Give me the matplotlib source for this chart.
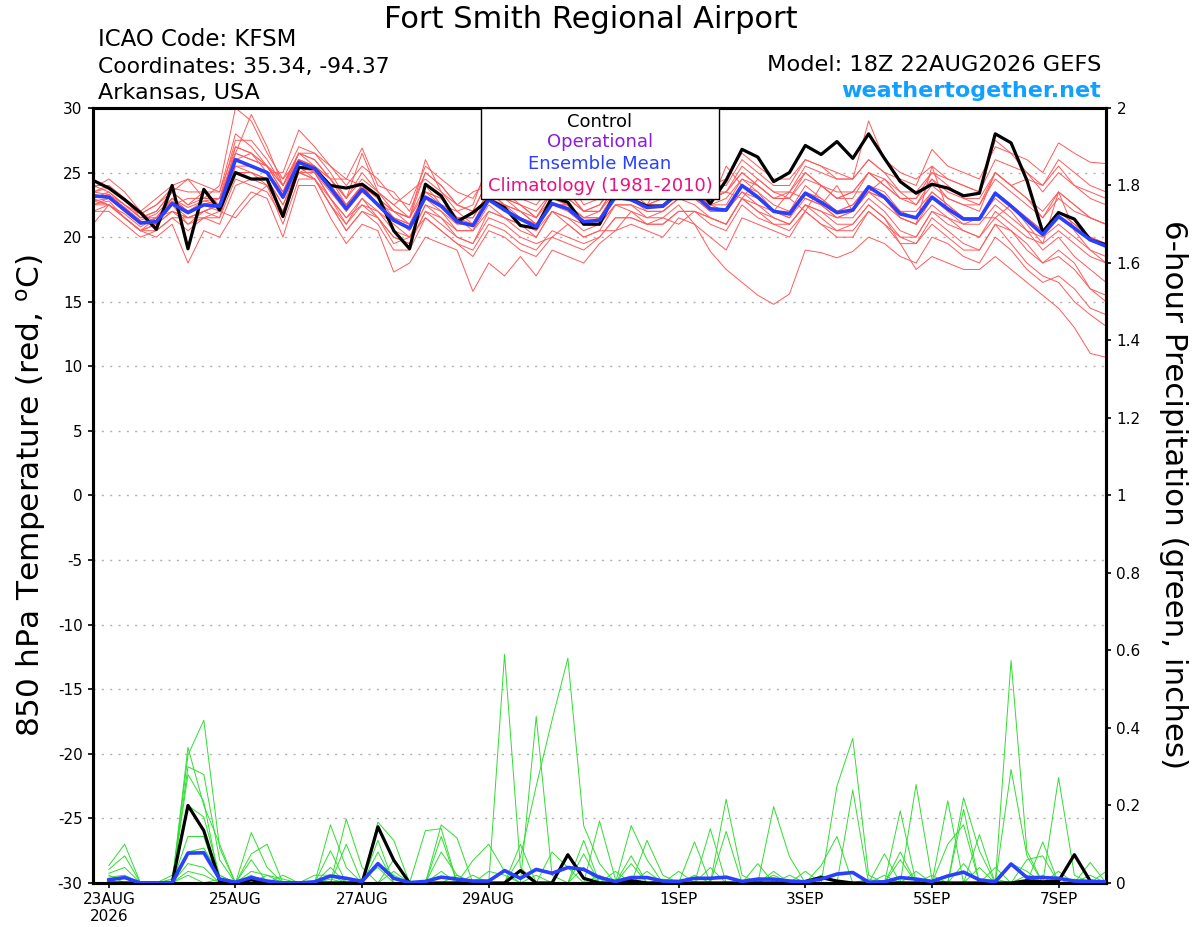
import matplotlib
matplotlib.use("Agg")
import matplotlib.pyplot as plt
import numpy as np
import pandas as pd
from matplotlib.patches import Rectangle

plt.rcParams['font.family'] = ['DejaVu Sans']
plt.rcParams['axes.unicode_minus'] = False

# 6-hourly valid times, GEFS run 18Z 22AUG2026
times = pd.date_range('2026-08-22 18:00', periods=65, freq='6h')

# 850 hPa temperature, control run (black)
temp_control = [
    24.4, 23.8, 22.9, 21.9, 20.6, 24.0, 19.1, 23.7, 22.1, 25.0, 24.5, 24.5, 21.6,
    25.4, 25.3, 24.0, 23.8, 24.1, 23.2, 20.5, 19.1, 24.1, 23.2, 21.2, 21.9, 22.9,
    22.3, 20.9, 20.7, 23.1, 22.7, 21.0, 21.0, 23.4, 22.9, 22.4, 22.4, 23.5, 24.2,
    22.6, 24.4, 26.8, 26.2, 24.3, 25.0, 27.1, 26.4, 27.4, 26.1, 28.0, 26.1, 24.3,
    23.4, 24.1, 23.8, 23.2, 23.4, 28.0, 27.3, 24.4, 20.4, 21.9, 21.4, 19.8, 19.4]

# ensemble mean (blue)
temp_mean = [
    23.2, 23.1, 22.1, 21.1, 21.2, 22.6, 21.9, 22.5, 22.4, 26.0, 25.5, 25.0, 23.1,
    25.8, 25.3, 23.8, 22.2, 23.7, 22.5, 21.3, 20.7, 23.1, 22.4, 21.2, 20.9, 22.9,
    22.1, 21.4, 20.8, 22.6, 22.2, 21.2, 21.3, 23.1, 22.9, 22.3, 22.4, 23.4, 23.3,
    22.2, 22.1, 24.0, 23.1, 22.0, 21.8, 23.4, 22.7, 21.9, 22.1, 23.9, 23.1, 21.8,
    21.5, 23.1, 22.2, 21.4, 21.4, 23.4, 22.4, 21.3, 20.2, 21.6, 20.7, 19.8, 19.3]

# individual members (red)
temp_members = [
    [23.5, 24.0, 23.0, 21.5, 22.0, 23.5, 22.5, 23.0, 24.0, 30.0, 29.0, 26.5, 24.5,
     27.0, 26.5, 25.0, 23.0, 26.5, 23.5, 22.0, 21.5, 26.0, 23.5, 22.0, 22.5, 25.8,
     23.0, 22.0, 21.5, 23.5, 23.0, 22.0, 22.5, 24.0, 24.0, 23.0, 23.5, 24.5, 24.0,
     23.0, 23.5, 25.0, 24.0, 23.0, 23.0, 25.0, 24.0, 23.5, 23.5, 25.0, 24.0, 23.0,
     22.5, 24.0, 23.0, 22.5, 22.0, 25.0, 24.0, 23.0, 21.5, 23.5, 22.5, 21.5, 21.0],
    [21.0, 22.5, 21.5, 20.5, 20.0, 21.0, 18.0, 20.5, 20.0, 22.0, 23.5, 23.0, 20.0,
     24.0, 24.0, 21.5, 19.5, 21.0, 20.5, 17.3, 18.0, 20.0, 19.5, 19.0, 15.8, 18.0,
     17.0, 18.5, 17.0, 19.0, 18.5, 18.0, 19.5, 20.5, 21.0, 20.5, 20.0, 21.5, 21.0,
     20.0, 19.0, 21.5, 21.0, 20.5, 20.0, 22.0, 21.0, 20.0, 20.0, 22.0, 21.0, 19.5,
     19.5, 21.0, 20.0, 19.0, 19.0, 21.0, 20.5, 19.5, 18.0, 19.0, 18.0, 16.0, 15.0],
    [22.5, 22.8, 21.5, 20.5, 21.0, 22.0, 21.5, 22.0, 22.5, 25.0, 25.0, 24.5, 22.5,
     25.0, 25.0, 23.0, 21.0, 23.0, 21.5, 20.0, 19.5, 22.0, 21.5, 20.0, 19.5, 22.0,
     21.5, 20.5, 20.0, 22.0, 21.0, 20.0, 20.5, 22.5, 22.0, 21.5, 21.5, 22.5, 21.0,
     18.9, 17.5, 16.5, 15.5, 14.8, 15.6, 19.0, 18.8, 18.4, 18.9, 20.0, 19.5, 18.5,
     18.0, 20.0, 19.5, 18.5, 18.0, 20.0, 19.0, 17.5, 16.5, 17.0, 16.0, 14.5, 14.0],
    [23.0, 23.5, 22.5, 21.5, 21.5, 23.0, 22.0, 22.5, 23.0, 26.5, 26.0, 25.5, 23.5,
     26.5, 26.0, 24.5, 22.5, 24.0, 23.0, 22.0, 21.0, 23.5, 23.0, 21.5, 21.5, 23.5,
     23.0, 22.5, 21.5, 23.0, 23.0, 22.0, 22.0, 24.0, 23.5, 23.0, 23.0, 24.0, 24.0,
     23.0, 23.5, 25.5, 24.5, 23.5, 23.5, 25.5, 25.0, 24.5, 24.5, 26.0, 25.0, 24.5,
     24.0, 26.8, 25.5, 25.0, 24.5, 27.0, 26.5, 26.0, 25.0, 27.3, 26.5, 25.8, 25.7],
    [22.8, 22.5, 21.8, 20.8, 21.5, 22.5, 21.0, 22.0, 21.5, 25.5, 25.0, 24.0, 22.0,
     25.5, 24.5, 23.0, 21.5, 22.5, 22.0, 21.0, 20.0, 22.5, 22.0, 20.5, 20.5, 22.5,
     21.5, 21.0, 20.5, 22.0, 21.5, 21.0, 21.0, 22.5, 22.5, 22.0, 22.0, 23.0, 23.0,
     22.0, 22.0, 23.5, 23.0, 22.0, 23.5, 23.0, 22.5, 24.0, 22.0, 23.5, 23.0, 21.5,
     21.0, 23.0, 22.0, 21.0, 21.5, 23.0, 22.0, 20.5, 19.0, 20.0, 18.5, 17.5, 16.5],
    [23.5, 23.3, 22.5, 21.8, 22.5, 23.5, 22.5, 23.5, 22.5, 27.0, 26.5, 25.5, 24.5,
     26.0, 25.5, 24.5, 24.5, 24.0, 22.5, 22.0, 21.5, 24.0, 22.5, 22.0, 21.0, 23.5,
     22.5, 22.0, 21.0, 23.0, 22.5, 21.5, 21.5, 23.5, 23.0, 22.5, 23.0, 23.5, 23.5,
     22.5, 22.5, 24.5, 23.5, 22.5, 22.0, 23.5, 23.0, 22.0, 22.5, 24.0, 23.5, 22.0,
     22.0, 23.5, 22.5, 21.5, 21.5, 23.5, 22.5, 21.5, 20.5, 22.0, 21.0, 20.0, 19.5],
    [22.0, 22.0, 21.0, 20.0, 20.5, 21.5, 21.5, 21.5, 21.0, 24.0, 24.5, 24.0, 21.0,
     24.5, 24.5, 22.5, 20.5, 22.0, 21.0, 19.0, 19.0, 21.5, 20.5, 19.5, 19.0, 21.0,
     20.5, 19.5, 19.0, 20.5, 20.0, 19.5, 20.0, 21.5, 21.5, 21.0, 21.0, 22.0, 22.0,
     21.5, 21.0, 23.0, 22.0, 21.5, 21.0, 22.5, 22.0, 21.0, 21.0, 22.5, 21.5, 19.5,
     17.5, 18.5, 18.0, 17.5, 17.5, 18.5, 17.5, 16.5, 15.5, 14.5, 13.0, 11.0, 10.7],
    [23.8, 24.5, 23.5, 22.0, 21.0, 22.5, 23.0, 23.0, 23.0, 26.0, 26.5, 25.0, 25.0,
     28.3, 27.0, 25.5, 24.5, 26.9, 24.0, 23.5, 22.0, 25.0, 24.0, 22.5, 22.0, 24.5,
     24.0, 23.0, 22.5, 24.0, 24.5, 22.5, 23.0, 24.5, 24.0, 23.5, 24.0, 25.0, 25.0,
     24.0, 24.5, 26.5, 25.5, 24.5, 24.5, 26.0, 25.5, 25.0, 24.5, 29.0, 26.0, 25.0,
     24.5, 25.5, 24.5, 24.0, 23.5, 27.5, 26.5, 25.0, 23.5, 25.0, 24.0, 23.5, 23.0],
    [22.5, 23.0, 22.0, 21.0, 21.5, 23.0, 22.0, 22.5, 22.0, 25.5, 25.5, 25.0, 23.0,
     25.0, 25.5, 24.0, 22.0, 24.0, 22.5, 21.5, 21.0, 23.0, 22.5, 21.5, 20.5, 23.0,
     22.0, 21.5, 21.0, 22.5, 22.5, 21.0, 21.5, 23.0, 23.0, 22.5, 22.5, 23.5, 23.0,
     22.5, 22.0, 24.0, 23.0, 22.0, 21.5, 23.5, 22.5, 21.5, 22.0, 23.5, 23.0, 21.5,
     21.0, 25.5, 22.0, 21.5, 21.5, 21.5, 22.5, 21.0, 19.5, 23.5, 20.5, 19.0, 18.0],
    [23.0, 22.5, 21.5, 20.5, 21.0, 22.0, 21.5, 22.0, 22.5, 25.0, 25.0, 24.5, 22.5,
     25.5, 25.0, 23.0, 21.5, 23.0, 22.0, 20.5, 20.0, 22.5, 21.5, 20.5, 20.5, 22.0,
     21.5, 21.0, 20.0, 22.0, 21.5, 20.5, 21.0, 22.5, 22.5, 21.5, 22.0, 23.0, 22.5,
     21.5, 21.0, 23.0, 22.0, 21.0, 21.0, 22.5, 21.5, 20.5, 21.0, 22.5, 21.5, 20.0,
     19.5, 21.5, 20.5, 19.5, 19.0, 21.0, 19.5, 18.0, 17.0, 16.5, 15.0, 14.0, 13.1],
    [24.0, 23.5, 22.5, 21.5, 22.0, 23.5, 24.5, 23.0, 23.0, 27.5, 27.5, 26.0, 24.0,
     26.5, 26.0, 24.5, 23.0, 24.5, 23.5, 22.5, 23.5, 24.5, 23.5, 22.5, 23.5, 24.0,
     23.0, 22.5, 22.0, 23.5, 23.5, 22.0, 22.0, 24.0, 23.5, 23.0, 23.0, 24.5, 24.0,
     23.0, 23.5, 25.0, 24.0, 23.0, 23.5, 25.0, 24.0, 23.0, 23.5, 25.0, 24.5, 23.0,
     23.0, 24.5, 23.0, 22.5, 22.5, 25.0, 24.0, 24.5, 24.0, 25.5, 24.0, 23.0, 22.5],
    [22.5, 22.5, 21.5, 20.5, 20.5, 21.5, 20.5, 21.5, 21.5, 24.5, 24.0, 23.5, 21.5,
     25.0, 24.5, 22.5, 20.5, 22.0, 21.5, 20.0, 19.5, 22.0, 21.0, 20.0, 19.5, 21.5,
     21.0, 20.0, 19.5, 20.0, 21.0, 20.0, 20.5, 20.5, 22.0, 21.0, 21.5, 21.0, 22.0,
     21.0, 20.5, 22.5, 21.5, 21.0, 20.5, 22.0, 21.0, 20.5, 20.5, 22.0, 21.0, 20.0,
     20.0, 22.0, 21.0, 20.5, 20.0, 21.5, 20.5, 19.0, 18.0, 18.5, 17.5, 16.0, 15.5],
    [23.5, 23.8, 22.8, 21.8, 22.5, 23.8, 23.5, 23.5, 23.5, 28.0, 27.0, 25.5, 24.0,
     26.5, 25.5, 24.5, 23.0, 25.0, 23.5, 22.5, 21.5, 25.0, 24.0, 22.5, 22.0, 24.5,
     23.5, 22.5, 21.5, 23.5, 23.5, 22.0, 22.5, 24.5, 24.0, 23.5, 23.5, 24.5, 24.5,
     23.5, 23.5, 23.0, 24.5, 23.5, 23.0, 22.0, 24.0, 23.0, 23.5, 23.5, 24.5, 23.5,
     22.5, 24.5, 23.5, 23.0, 22.5, 24.5, 23.5, 22.5, 21.5, 23.0, 22.0, 21.5, 21.0],
    [22.8, 23.0, 22.0, 21.2, 21.0, 22.5, 21.5, 22.0, 22.5, 26.5, 29.5, 27.0, 24.0,
     26.0, 25.0, 23.5, 22.0, 23.5, 22.5, 21.5, 20.5, 23.0, 22.0, 21.0, 21.0, 23.0,
     22.0, 21.5, 21.0, 22.5, 22.0, 21.0, 21.5, 23.0, 23.0, 22.0, 22.0, 23.0, 23.0,
     22.0, 22.0, 23.5, 22.5, 22.0, 21.5, 23.0, 22.5, 21.5, 22.0, 23.5, 22.5, 21.5,
     21.0, 22.5, 21.5, 21.0, 21.0, 22.5, 21.5, 20.5, 20.0, 21.0, 20.0, 19.0, 18.5],
    [23.3, 23.0, 22.3, 21.0, 21.5, 22.8, 22.0, 22.8, 22.5, 26.0, 25.5, 25.0, 23.5,
     26.0, 25.5, 24.0, 22.5, 24.0, 23.0, 21.5, 21.0, 23.5, 23.0, 21.5, 21.5, 23.5,
     22.5, 21.5, 21.0, 23.0, 22.5, 21.5, 21.5, 23.5, 23.0, 22.5, 24.5, 23.5, 23.5,
     22.5, 25.5, 24.0, 23.5, 22.0, 22.0, 24.0, 23.0, 22.0, 22.5, 24.0, 23.0, 22.0,
     21.5, 23.5, 22.5, 21.5, 21.5, 23.5, 22.5, 21.5, 20.5, 22.0, 21.0, 20.0, 19.5],
    [22.0, 22.5, 21.5, 20.5, 21.5, 22.0, 21.0, 21.5, 22.0, 21.5, 23.0, 24.0, 22.0,
     25.0, 24.5, 22.5, 21.0, 22.5, 21.5, 19.5, 20.0, 21.5, 20.5, 19.5, 18.5, 20.5,
     20.0, 19.0, 18.5, 20.0, 19.5, 19.0, 20.0, 21.5, 21.5, 21.0, 21.0, 22.0, 22.0,
     21.5, 21.0, 23.0, 22.5, 21.5, 21.0, 22.5, 22.0, 21.5, 21.5, 23.0, 22.0, 20.5,
     20.0, 22.0, 21.5, 20.5, 20.0, 22.0, 21.0, 20.0, 19.5, 20.5, 19.5, 18.5, 18.0],
    [23.0, 23.3, 22.3, 21.3, 21.8, 23.0, 22.3, 22.8, 23.0, 26.5, 26.0, 25.5, 23.5,
     26.0, 25.5, 24.0, 22.5, 24.0, 23.0, 22.0, 21.5, 23.5, 22.5, 21.5, 21.0, 23.0,
     22.5, 22.0, 21.0, 22.5, 22.5, 21.5, 22.0, 23.5, 23.5, 22.5, 23.0, 24.0, 23.5,
     22.5, 23.0, 24.5, 24.0, 23.0, 23.0, 24.5, 24.0, 23.0, 23.0, 25.0, 24.0, 23.0,
     23.0, 25.0, 24.5, 24.0, 23.5, 26.0, 25.5, 25.0, 24.0, 26.0, 25.0, 24.0, 23.5],
    [24.0, 24.0, 23.0, 22.0, 23.0, 24.0, 24.5, 24.0, 23.5, 27.0, 26.5, 25.5, 24.0,
     26.5, 26.5, 25.5, 24.0, 25.5, 24.5, 23.0, 22.5, 25.5, 24.5, 23.5, 23.0, 25.0,
     24.0, 23.5, 23.0, 24.5, 24.5, 23.5, 23.5, 25.0, 24.5, 24.0, 24.0, 25.0, 25.0,
     24.0, 24.0, 26.0, 25.0, 24.0, 24.0, 26.0, 25.5, 24.5, 24.5, 26.0, 25.0, 23.5,
     23.5, 25.0, 24.0, 23.0, 23.0, 25.0, 24.0, 23.0, 22.0, 23.5, 22.5, 21.5, 21.0],
]

# 6-hour precipitation (inches), valid from 00Z 23AUG onward
precip_control = [
    0, 0, 0, 0, 0, .20, .135, .005, 0, .008, 0, 0, 0, 0, 0, 0,
    0, .145, .059, 0, 0, 0, 0, 0, 0, 0, .032, 0, 0, .073, .012, 0,
    0, .006, 0, 0, 0, 0, 0, 0, 0, 0, 0, 0, .004, .014, .005, 0,
    0, 0, 0, 0, 0, 0, 0, 0, 0, 0, .006, .003, .005, .073, .005, 0]

precip_mean = [
    .008, .014, 0, 0, .001, .077, .078, .01, .002, .014, .005, 0, 0, .003, .018, .012,
    .004, .05, .012, .001, .004, .015, .01, .005, .005, .032, .012, .035, .025, .04, .035, .014,
    .004, .014, .014, .005, .004, .012, .012, .015, .004, .01, .01, .005, .003, .01, .023, .027,
    .002, .003, .014, .01, .004, .018, .028, .008, .003, .049, .014, .014, .012, .005, .004, .003]

precip_members = [
    [.045, .10, 0, 0, 0, .35, .20, .10, 0, 0, 0, 0, 0, 0, .15, .04,
     0, 0, 0, 0, 0, .15, .116, 0, 0, .59, .04, 0, 0, 0, 0, 0,
     0, .148, .06, 0, 0, 0, 0, .216, .02, 0, 0, 0, 0, 0, 0, .24,
     0, 0, 0, 0, 0, 0, .22, .083, 0, 0, 0, 0, .272, .02, 0, 0],
    [.035, .07, 0, 0, 0, .33, .42, .09, 0, .13, .04, 0, 0, 0, 0, 0,
     0, .157, .11, 0, 0, 0, 0, 0, 0, 0, 0, .43, .02, 0, .11, 0,
     0, 0, 0, 0, 0, 0, .14, 0, 0, 0, .197, .068, 0, 0, 0, 0,
     0, 0, 0, .254, .01, 0, 0, 0, 0, .574, .083, 0, 0, 0, 0, 0],
    [.025, .04, 0, 0, 0, .30, .28, .06, 0, 0, 0, 0, 0, 0, 0, .165,
     .04, 0, 0, 0, .135, .14, 0, 0, 0, 0, .066, .25, .42, .58, .148, .05,
     0, 0, 0, 0, 0, 0, 0, 0, 0, 0, 0, 0, 0, 0, .25, .373,
     .02, 0, 0, 0, 0, .212, 0, 0, 0, .293, .07, 0, 0, 0, 0, 0],
    [.015, .02, 0, 0, 0, .28, .21, 0, 0, .075, .10, 0, 0, 0, .083, 0,
     0, 0, .06, 0, 0, 0, 0, .058, .10, .03, 0, 0, 0, 0, 0, .16,
     .01, 0, 0, 0, 0, .106, 0, .133, 0, 0, 0, 0, 0, 0, 0, 0,
     0, 0, .186, 0, 0, 0, .19, 0, 0, 0, 0, .106, 0, 0, .053, 0],
    [0, 0, 0, 0, .02, .20, .17, .02, 0, .06, 0, 0, 0, 0, 0, 0,
     0, .11, 0, 0, 0, .08, .02, 0, 0, 0, 0, 0, .08, .04, 0, 0,
     0, 0, .11, .02, 0, 0, 0, 0, 0, 0, .03, 0, 0, .045, .12, 0,
     0, 0, .08, 0, 0, 0, 0, .125, 0, 0, .06, .07, 0, 0, 0, .03],
    [0, 0, 0, 0, 0, .12, .12, 0, 0, .03, .02, 0, 0, 0, .04, 0,
     0, .08, 0, 0, 0, .12, 0, 0, 0, 0, .10, 0, 0, 0, .075, 0,
     0, .07, 0, 0, .03, 0, .04, 0, 0, .05, 0, 0, 0, 0, 0, 0,
     0, .075, 0, 0, 0, .10, .15, 0, .04, 0, 0, 0, 0, 0, 0, 0],
    [0, 0, 0, 0, .01, .08, .09, .02, 0, 0, 0, .02, 0, 0, 0, .10,
     0, .05, .02, 0, 0, 0, 0, .02, 0, 0, 0, 0, 0, 0, .04, 0,
     0, .05, 0, 0, 0, 0, 0, 0, 0, 0, 0, 0, .03, 0, 0, 0,
     0, 0, .06, 0, 0, 0, 0, 0, 0, .05, .03, 0, .03, 0, 0, 0],
    [0, 0, 0, 0, 0, .05, .04, 0, 0, .02, 0, 0, 0, .02, .02, 0,
     .01, .04, 0, 0, 0, 0, 0, 0, .03, .02, 0, 0, 0, 0, 0, .02,
     0, 0, .03, 0, 0, 0, 0, 0, 0, 0, .02, 0, 0, .02, 0, 0,
     0, 0, 0, .03, 0, 0, 0, .04, 0, 0, .02, 0, 0, 0, 0, 0],
    [0, 0, 0, 0, 0, .03, .02, 0, 0, 0, .02, .01, 0, 0, 0, 0,
     0, 0, .03, 0, 0, 0, .02, 0, 0, 0, 0, 0, 0, 0, 0, 0,
     .03, 0, 0, .01, 0, 0, 0, 0, 0, 0, 0, .02, 0, 0, 0, 0,
     0, .02, 0, 0, 0, 0, .05, 0, 0, 0, 0, .02, 0, 0, .02, 0],
    [.02, 0, 0, 0, 0, .02, 0, .01, 0, 0, 0, 0, 0, 0, .01, 0,
     0, 0, 0, 0, 0, .03, 0, 0, 0, 0, 0, .02, 0, 0, 0, 0,
     0, 0, 0, 0, 0, .02, 0, 0, 0, 0, 0, 0, 0, 0, 0, 0,
     .01, 0, 0, 0, .02, 0, 0, 0, .01, 0, 0, 0, 0, .01, 0, 0],
]

tick_dates = ['2026-08-23', '2026-08-25', '2026-08-27', '2026-08-29',
              '2026-09-01', '2026-09-03', '2026-09-05', '2026-09-07']
tick_labels = ['23AUG\n2026', '25AUG', '27AUG', '29AUG', '1SEP', '3SEP', '5SEP', '7SEP']

legend_items = ['Control', 'Operational', 'Ensemble Mean', 'Climatology (1981-2010)']
legend_colors = ['black', '#8a1be0', '#2a40ff', '#e8137e']

fig = plt.figure(figsize=(12, 9.27), dpi=100)
ax = fig.add_axes([0.0775, 0.0475, 0.8442, 0.836])
ax2 = ax.twinx()

# temperature
for m in temp_members:
    ax.plot(times, m, color='#ff5a5a', lw=0.7, zorder=2)
ax.plot(times, temp_control, color='black', lw=2.3, zorder=3)
ax.plot(times, temp_mean, color='#2a40ff', lw=2.6, zorder=4)

# precipitation
ptimes = times[1:]
for m in precip_members:
    ax2.plot(ptimes, m, color='#30dd30', lw=0.7, zorder=2)
ax2.plot(ptimes, precip_control, color='black', lw=2.3, zorder=3)
ax2.plot(ptimes, precip_mean, color='#2a40ff', lw=2.6, zorder=4)

ax.set_xlim(times[0], times[-1])
ax.set_ylim(-30, 30)
ax2.set_ylim(0, 2)
ax.set_yticks(np.arange(-30, 31, 5))
ax2.set_yticks(np.arange(0, 2.01, 0.2))
ax2.set_yticklabels(['%g' % v for v in np.round(np.arange(0, 2.01, 0.2), 1)])
ax.set_xticks(pd.to_datetime(tick_dates))
ax.set_xticklabels(tick_labels)

for g in range(-25, 30, 5):
    ax.axhline(g, color='#b0b0b0', lw=1.0, ls=(0, (1.5, 4.5)), zorder=1)

for a in (ax, ax2):
    for s in a.spines.values():
        s.set_linewidth(2.2)
    a.tick_params(direction='out', length=3.5, width=1.2, labelsize=11)
ax.tick_params(axis='x', pad=3)
ax.tick_params(axis='y', pad=4)
ax2.tick_params(axis='y', pad=4)

fig.text(0.026, 0.466, r'850 hPa Temperature (red, $^{\mathrm{o}}$C)', rotation=90,
         ha='center', va='center', fontsize=22.5)
fig.text(0.978, 0.466, '6-hour Precipitation (green, inches)', rotation=270,
         ha='center', va='center', fontsize=22.3)

# legend box
ax2.add_patch(Rectangle((0.3827, 0.883), 0.235, 0.117, transform=ax2.transAxes,
                        facecolor='white', edgecolor='black', lw=1.0, zorder=10))
for txt, col, yb in zip(legend_items, legend_colors, [0.9759, 0.9493, 0.9209, 0.8933]):
    ax2.text(0.5005, yb, txt, color=col, fontsize=13, ha='center', va='baseline',
             transform=ax2.transAxes, zorder=11)

# header
fig.text(591 / 1200, 1 - 28 / 927, 'Fort Smith Regional Airport', ha='center',
         va='baseline', fontsize=22)
fig.text(98 / 1200, 1 - 46 / 927, 'ICAO Code: KFSM', ha='left', va='baseline', fontsize=16.5)
fig.text(98 / 1200, 1 - 73 / 927, 'Coordinates: 35.34, -94.37', ha='left', va='baseline', fontsize=15.7)
fig.text(98 / 1200, 1 - 99 / 927, 'Arkansas, USA', ha='left', va='baseline', fontsize=16)
fig.text(1101 / 1200, 1 - 71 / 927, 'Model: 18Z 22AUG2026 GEFS', ha='right', va='baseline', fontsize=16.2)
fig.text(1101 / 1200, 1 - 97 / 927, 'weathertogether.net', ha='right', va='baseline',
         fontsize=16, fontweight='bold', color='#12a0ff')

fig.savefig('out.png', dpi=100)
